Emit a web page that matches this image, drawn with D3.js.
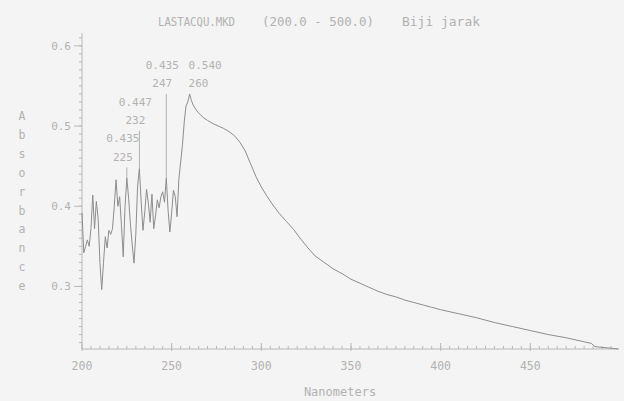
<!DOCTYPE html>
<html>
<head>
<meta charset="utf-8">
<script src="https://cdn.jsdelivr.net/npm/d3@7"></script>
<style>
  body { margin: 0; background: #f4f4f4; }
  svg { display: block; }
  text { font-family: "DejaVu Sans Mono", "Liberation Mono", monospace; fill: #b2b2b2; }
</style>
</head>
<body>
<div id="chart"></div>
<script>
// spectrum (nm, absorbance)
const wavelength = [
  200,201,202,203,204,205,206,207,208,209,210,211,212,213,214,215,216,217,218,219,
  220,221,222,223,224,225,226,227,228,229,230,231,232,233,234,235,236,237,238,239,
  240,241,242,243,244,245,246,247,248,249,250,251,252,253,254,255,256,257,258,259,
  260,261,262,264,266,268,270,273,276,279,282,285,288,291,294,297,300,303,306,310,
  314,318,322,326,330,335,340,345,350,355,360,365,370,375,380,385,390,395,400,410,
  420,430,440,450,460,470,480,484,486,490,495,499
];
const absorbance = [
  0.392,0.342,0.350,0.358,0.350,0.372,0.414,0.372,0.406,0.385,0.330,0.296,0.330,0.362,0.348,0.370,0.365,0.372,0.400,0.433,
  0.400,0.412,0.376,0.337,0.400,0.435,0.410,0.378,0.352,0.329,0.365,0.425,0.447,0.405,0.370,0.393,0.421,0.404,0.380,0.415,
  0.372,0.388,0.408,0.398,0.412,0.418,0.405,0.435,0.395,0.368,0.392,0.420,0.412,0.387,0.433,0.455,0.476,0.505,0.525,0.530,
  0.540,0.532,0.526,0.519,0.514,0.510,0.507,0.503,0.500,0.497,0.493,0.488,0.480,0.469,0.453,0.437,0.424,0.413,0.403,0.391,
  0.381,0.371,0.359,0.348,0.338,0.330,0.322,0.316,0.309,0.304,0.299,0.294,0.290,0.287,0.283,0.280,0.277,0.274,0.271,0.266,
  0.261,0.255,0.250,0.245,0.240,0.236,0.231,0.229,0.225,0.224,0.223,0.222
];

// picked peaks
const peakNm = [225, 232, 247, 260];
const peakAbs = [0.435, 0.447, 0.435, 0.540];

const xTicks = [200, 250, 300, 350, 400, 450];
const yTicks = [0.3, 0.4, 0.5, 0.6];
const yLabel = 'Absorbance';
const xLabel = 'Nanometers';
const titleParts = ['LASTACQU.MKD', '(200.0 - 500.0)', 'Biji jarak'];

const width = 624, height = 401;
const svg = d3.select('#chart').append('svg')
  .attr('width', width)
  .attr('height', height);

const x = d3.scaleLinear().domain([200, 500]).range([82, 620]);
const y = d3.scaleLinear().domain([0.222, 0.616]).range([349, 33]);
const axisColor = '#b8b8b8';

// title, placed piece by piece like the printout
const titleX = [158, 262, 402];
const titleW = [77, 112, 78];
titleParts.forEach((t, i) => {
  svg.append('text')
    .attr('x', titleX[i])
    .attr('y', 26)
    .attr('textLength', titleW[i])
    .attr('lengthAdjust', 'spacingAndGlyphs')
    .style('font-size', '11.5px')
    .text(t);
});

// y axis
const yAxis = svg.append('g').attr('transform', `translate(${x(200)},0)`);
yAxis.append('line')
  .attr('y1', y(0.222)).attr('y2', 33)
  .attr('stroke', axisColor);
const yMinor = d3.range(23, 62).map(d => d / 100);
yAxis.selectAll('.ymin').data(yMinor).enter().append('line')
  .attr('x1', -3).attr('x2', 0)
  .attr('y1', d => y(d)).attr('y2', d => y(d))
  .attr('stroke', axisColor);
yAxis.selectAll('.ymaj').data(yTicks).enter().append('line')
  .attr('x1', -8).attr('x2', 0)
  .attr('y1', d => y(d)).attr('y2', d => y(d))
  .attr('stroke', axisColor);
yAxis.selectAll('.ylab').data(yTicks).enter().append('text')
  .attr('x', -11)
  .attr('y', d => y(d))
  .attr('dy', '0.35em')
  .attr('text-anchor', 'end')
  .style('font-size', '11px')
  .text(d => d3.format('.1f')(d));

// x axis
const xAxis = svg.append('g').attr('transform', `translate(0,${y(0.222)})`);
xAxis.append('line')
  .attr('x1', x(200)).attr('x2', 619)
  .attr('stroke', axisColor);
const xMinor = d3.range(205, 500, 5);
xAxis.selectAll('.xmin').data(xMinor).enter().append('line')
  .attr('x1', d => x(d)).attr('x2', d => x(d))
  .attr('y1', 0).attr('y2', -3)
  .attr('stroke', axisColor);
xAxis.selectAll('.xmaj').data(xTicks).enter().append('line')
  .attr('x1', d => x(d)).attr('x2', d => x(d))
  .attr('y1', 2).attr('y2', -6)
  .attr('stroke', axisColor);
xAxis.selectAll('.xlab').data(xTicks).enter().append('text')
  .attr('x', d => x(d))
  .attr('y', 21)
  .attr('text-anchor', 'middle')
  .style('font-size', '11.5px')
  .text(d => d);

// axis titles
svg.append('text')
  .attr('x', 340)
  .attr('y', 396)
  .attr('text-anchor', 'middle')
  .style('font-size', '12px')
  .text(xLabel);

svg.selectAll('.ylet').data(yLabel.split('')).enter().append('text')
  .attr('x', 22)
  .attr('y', (d, i) => 116 + i * 18.9)
  .attr('dy', '0.35em')
  .attr('text-anchor', 'middle')
  .style('font-size', '11.5px')
  .text(d => d);

// spectrum
const pts = wavelength.map((w, i) => [w, absorbance[i]]);
const line = d3.line().x(d => x(d[0])).y(d => y(d[1]));
svg.append('path')
  .datum(pts)
  .attr('d', line)
  .attr('fill', 'none')
  .attr('stroke', '#8d8d8d')
  .attr('stroke-width', 1);

// peak labels: two text rows each, staggered upwards
const labelRow = [2, 1, 0, 0];
peakNm.forEach((nm, i) => {
  const top = 65 + labelRow[i] * 36.7;
  const last = i === peakNm.length - 1;
  const lx = last ? x(nm) - 1 : x(nm) - 4;
  const anchor = last ? 'start' : 'middle';
  svg.append('text')
    .attr('x', lx).attr('y', top).attr('dy', '0.35em')
    .attr('text-anchor', anchor)
    .style('font-size', '11px')
    .text(d3.format('.3f')(peakAbs[i]));
  svg.append('text')
    .attr('x', lx).attr('y', top + 18.5).attr('dy', '0.35em')
    .attr('text-anchor', anchor)
    .style('font-size', '11px')
    .text(nm);
  const y1 = top + 29;
  if (y1 < y(peakAbs[i])) {
    svg.append('line')
      .attr('x1', x(nm)).attr('x2', x(nm))
      .attr('y1', y1).attr('y2', y(peakAbs[i]))
      .attr('stroke', '#a0a0a0')
      .attr('stroke-width', 0.8);
  }
});
</script>
</body>
</html>
